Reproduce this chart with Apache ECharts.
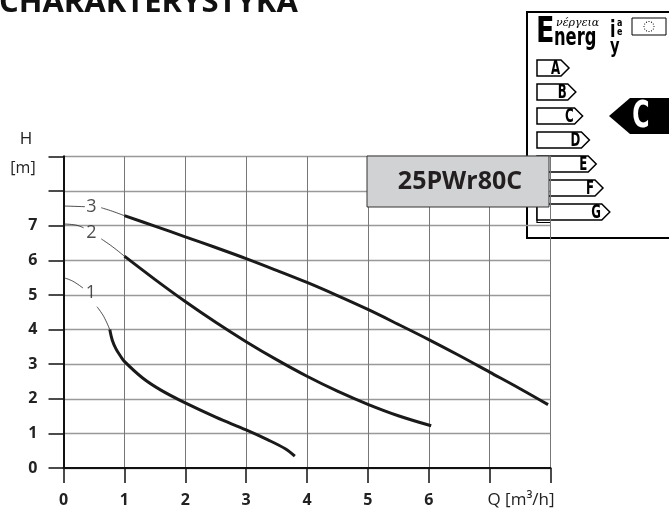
<!DOCTYPE html>
<html>
<head>
<meta charset="utf-8">
<script src="https://cdn.jsdelivr.net/npm/echarts@6/dist/echarts.min.js"></script>
<style>html,body{margin:0;padding:0;background:#fff}#c{width:669px;height:513px}</style>
</head>
<body>
<div id="c"></div>
<script>
// ---- data ----
const title = 'CHARAKTERYSTYKA';
const modelName = '25PWr80C';
const xTickLabels = ['0', '1', '2', '3', '4', '5', '6'];
const yTickLabels = ['0', '1', '2', '3', '4', '5', '6', '7'];
const xAxisLabel = 'Q [m³/h]';
const yAxisName = 'H';
const yAxisUnit = '[m]';
const curve1 = [[0.76,4.0],[0.8,3.7],[0.86,3.45],[0.93,3.25],[1.0,3.08],[1.3,2.6],[1.6,2.25],[2.0,1.88],[2.5,1.47],[3.0,1.1],[3.35,0.82],[3.65,0.55],[3.8,0.34]];
const curve2 = [[1.0,6.12],[1.5,5.45],[2.0,4.81],[2.5,4.21],[3.0,3.65],[3.5,3.13],[4.0,2.65],[4.5,2.22],[5.0,1.84],[5.5,1.51],[6.04,1.22]];
const curve3 = [[1.0,7.29],[1.5,6.99],[2.0,6.68],[2.5,6.37],[3.0,6.05],[3.5,5.71],[4.0,5.36],[4.5,4.98],[5.0,4.58],[5.5,4.15],[6.0,3.71],[6.5,3.25],[7.0,2.77],[7.5,2.29],[7.96,1.83]];
const leader1a = [[0,5.5],[0.15,5.4],[0.32,5.2]];
const leader1b = [[0.55,4.66],[0.66,4.38],[0.76,4.0]];
const leader2a = [[0,7.05],[0.2,7.02],[0.33,6.94]];
const leader2b = [[0.62,6.62],[0.8,6.4],[1.0,6.12]];
const leader3a = [[0,7.57],[0.35,7.55]];
const leader3b = [[0.62,7.52],[0.8,7.42],[1.0,7.29]];
const curveLabels = [[0.46,7.54,'3'],[0.46,6.79,'2'],[0.45,5.06,'1']];
const energyClasses = ['A','B','C','D','E','F','G'];
const energyRating = 'C';

// ---- chart ----
const chart = echarts.init(document.getElementById('c'));
const sans = '"Open Sans", "Noto Sans", sans-serif';
const heavy = '"DejaVu Sans", sans-serif';

const thick = (d) => ({type:'line', data:d, showSymbol:false, smooth:0.35, lineStyle:{color:'#1a1a1a', width:3}, silent:true, z:3});
const thin = (d) => ({type:'line', data:d, showSymbol:false, smooth:0.4, lineStyle:{color:'#222', width:0.8}, silent:true, z:3});

const gfx = [];
gfx.push({type:'text', left:-1, top:-12, style:{text:title, font:'bold 31px '+sans, fill:'#111'}});
// energy label
gfx.push({type:'rect', z:-5, shape:{x:527, y:12, width:170, height:226}, style:{fill:'#fff', stroke:'#000', lineWidth:2}});
gfx.push({type:'polyline', z:-4, shape:{points:[[537,207],[537,222.5],[550,222.5]]}, style:{stroke:'#000', lineWidth:1.2, fill:null}});
energyClasses.forEach((c, i) => {
  const t = 60 + i*24, tip = 569 + i*6.8;
  gfx.push({type:'polygon', z:-4, shape:{points:[[537,t],[tip-8,t],[tip,t+8],[tip-8,t+16],[537,t+16]]}, style:{fill:'#fff', stroke:'#000', lineWidth:1.5}});
  gfx.push({type:'text', z:-3, x:tip-9, y:t+9, scaleX:0.62, style:{text:c, font:'bold 19px '+heavy, fill:'#000', align:'right', verticalAlign:'middle'}});
});
gfx.push({type:'polygon', z:-4, shape:{points:[[609,116],[630,98],[672,98],[672,134],[630,134]]}, style:{fill:'#000'}});
gfx.push({type:'text', z:-3, x:641, y:117, scaleX:0.62, style:{text:energyRating, font:'bold 38px '+heavy, fill:'#fff', align:'center', verticalAlign:'middle'}});
gfx.push({type:'text', z:-3, x:536, y:51, scaleX:0.75, style:{text:'E', font:'bold 36px '+heavy, fill:'#000', verticalAlign:'bottom'}});
gfx.push({type:'text', z:-3, x:554, y:51, scaleX:0.68, style:{text:'nerg', font:'bold 24px '+heavy, fill:'#000', verticalAlign:'bottom'}});
gfx.push({type:'text', z:-3, x:556, y:23, style:{text:'νέργεια', font:'italic 11px "DejaVu Serif", serif', fill:'#000', verticalAlign:'middle'}});
gfx.push({type:'text', z:-3, x:610, y:43, scaleX:0.7, style:{text:'i', font:'bold 23px '+heavy, fill:'#000', verticalAlign:'bottom'}});
gfx.push({type:'text', z:-3, x:617, y:23, scaleX:0.8, style:{text:'a', font:'bold 10px '+heavy, fill:'#000', verticalAlign:'middle'}});
gfx.push({type:'text', z:-3, x:617, y:32, scaleX:0.8, style:{text:'e', font:'bold 10px '+heavy, fill:'#000', verticalAlign:'middle'}});
gfx.push({type:'text', z:-3, x:610, y:58, scaleX:0.7, style:{text:'y', font:'bold 21px '+heavy, fill:'#000', verticalAlign:'bottom'}});
gfx.push({type:'rect', z:-4, shape:{x:632, y:18, width:34, height:17}, style:{fill:'#fff', stroke:'#000', lineWidth:1}});
for (let k = 0; k < 12; k++) {
  const a = k * Math.PI / 6;
  gfx.push({type:'circle', z:-3, shape:{cx:649 + 5*Math.cos(a), cy:26.5 + 5*Math.sin(a), r:0.6}, style:{fill:'#000'}});
}
// model box
gfx.push({type:'rect', z:50, shape:{x:367, y:156, width:182, height:51}, style:{fill:'#d1d2d4', stroke:'#333', lineWidth:1}});
gfx.push({type:'text', z:51, x:460, y:182, style:{text:modelName, font:'bold 25px '+sans, fill:'#231f20', align:'center', verticalAlign:'middle'}});
// axis names
gfx.push({type:'text', x:26, y:139, style:{text:yAxisName, font:'17px '+sans, fill:'#222', align:'center', verticalAlign:'middle'}});
gfx.push({type:'text', x:23, y:168, style:{text:yAxisUnit, font:'16px '+sans, fill:'#222', align:'center', verticalAlign:'middle'}});
gfx.push({type:'text', x:521, y:500, style:{text:xAxisLabel, font:'17px '+sans, fill:'#222', align:'center', verticalAlign:'middle'}});

chart.setOption({
  animation:false,
  backgroundColor:'#fff',
  grid:{left:63.5, right:118.5, top:156.5, bottom:45},
  xAxis:{type:'value', min:0, max:8, interval:1,
    axisLine:{show:true, onZero:false, lineStyle:{color:'#111', width:2}},
    axisTick:{show:true, length:15, lineStyle:{color:'#111', width:1.5}},
    axisLabel:{margin:24, fontFamily:sans, fontWeight:'bold', fontSize:16, color:'#222',
      formatter:(v)=>{const i=Math.round(v); return i < xTickLabels.length ? xTickLabels[i] : '';}},
    splitLine:{show:true, lineStyle:{color:'#777', width:1}}},
  yAxis:[{type:'value', min:0, max:9, interval:1,
    axisLine:{show:true, onZero:false, lineStyle:{color:'#111', width:2}},
    axisTick:{show:true, length:15, lineStyle:{color:'#111', width:1.5}},
    axisLabel:{margin:26, fontFamily:sans, fontWeight:'bold', fontSize:16, color:'#222',
      formatter:(v)=>{const i=Math.round(v); return i < yTickLabels.length ? yTickLabels[i] : '';}},
    splitLine:{show:true, lineStyle:{color:'#999', width:1.4}}},
   {type:'value', position:'right', min:0, max:9, interval:1,
    axisLine:{show:true, lineStyle:{color:'#111', width:2}}, axisTick:{show:false}, axisLabel:{show:false}, splitLine:{show:false}}],
  graphic:gfx,
  series:[
    thick(curve1), thick(curve2), thick(curve3),
    thin(leader1a), thin(leader1b), thin(leader2a), thin(leader2b), thin(leader3a), thin(leader3b),
    {type:'scatter', data:curveLabels, symbolSize:1, itemStyle:{color:'rgba(0,0,0,0)'}, silent:true, z:4,
     label:{show:true, position:'inside', formatter:(p)=>p.value[2], fontFamily:sans, fontSize:18, color:'#222'}}
  ]
});
</script>
</body>
</html>
